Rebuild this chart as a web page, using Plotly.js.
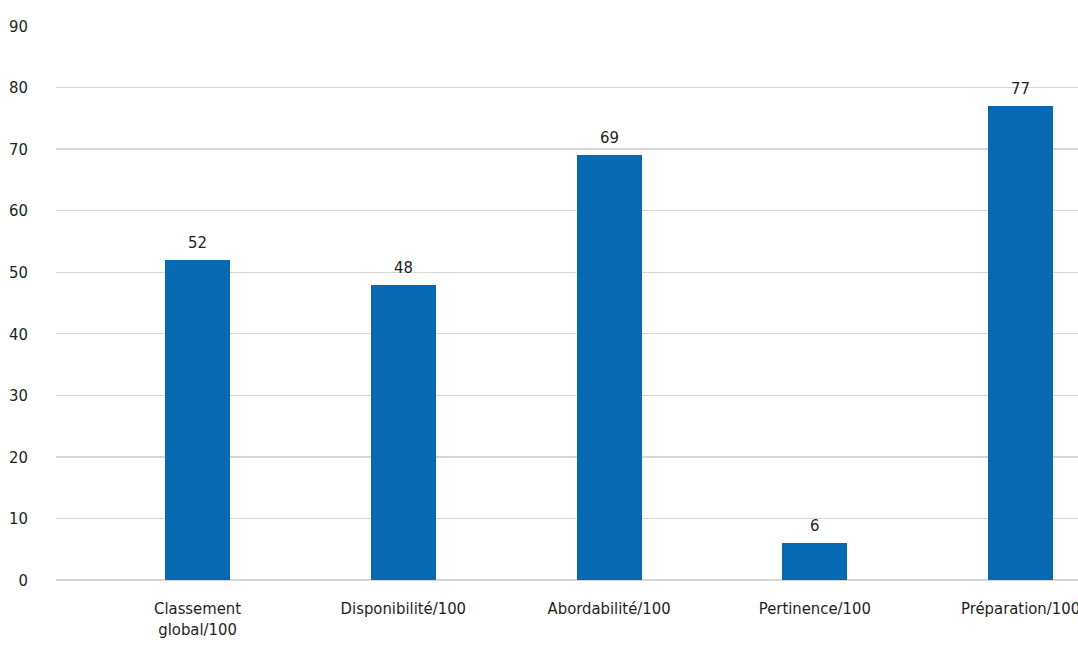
<!DOCTYPE html>
<html>
<head>
<meta charset="utf-8">
<script src="https://cdn.plot.ly/plotly-3.0.1.min.js"></script>
<style>html,body{margin:0;padding:0;background:#fff;overflow:hidden}#chart{width:1078px;height:645px}</style>
</head>
<body>
<div id="chart"></div>
<script>
const categories = ["Classement<br>global/100", "Disponibilité/100", "Abordabilité/100", "Pertinence/100", "Préparation/100"];
const values = [52, 48, 69, 6, 77];
const yTicks = [0, 10, 20, 30, 40, 50, 60, 70, 80, 90];

const FONT = '"DejaVu Sans Condensed", sans-serif';
const FS = 16.5;

Plotly.newPlot('chart', [{
  type: 'bar',
  x: categories,
  y: values,
  width: 0.316,
  marker: {color: '#0669B2'},
  hoverinfo: 'skip'
}], {
  width: 1078, height: 645,
  margin: {l: 56, r: 0, t: 26, b: 65},
  paper_bgcolor: '#fff', plot_bgcolor: '#fff',
  font: {family: FONT, size: FS, color: '#1e1e1e'},
  showlegend: false,
  bargap: 0,
  annotations: categories.map((c, i) => ({
    x: c, y: values[i], xref: 'x', yref: 'y',
    text: String(values[i]), showarrow: false,
    yanchor: 'bottom', yshift: 6,
    font: {family: FONT, size: FS, color: '#1e1e1e'}
  })),
  xaxis: {
    type: 'category',
    range: [-0.688, 4.279],
    showgrid: false, showline: false, zeroline: false,
    ticks: '', ticklabelstandoff: 16,
    tickfont: {family: FONT, size: FS, color: '#1e1e1e'}
  },
  yaxis: {
    range: [0, 90],
    tickvals: yTicks,
    ticktext: yTicks.map(String),
    showgrid: true, gridcolor: '#d6d6d6', gridwidth: 1.3,
    zeroline: true, zerolinecolor: '#d6d6d6', zerolinewidth: 1.3,
    showline: false, ticks: '',
    ticklabelstandoff: 27,
    tickfont: {family: FONT, size: FS, color: '#1e1e1e'}
  }
}, {staticPlot: true});
</script>
</body>
</html>
